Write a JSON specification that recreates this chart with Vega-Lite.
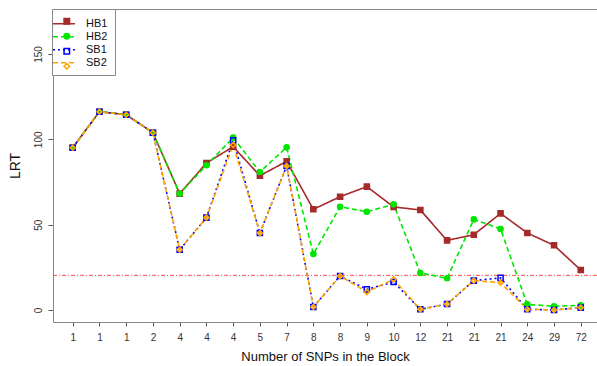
{
  "$schema": "https://vega.github.io/schema/vega-lite/v6.json",
  "width": 544,
  "height": 313,
  "autosize": {"type": "none"},
  "padding": {"left": 53, "top": 9, "right": 0, "bottom": 44},
  "background": "white",
  "config": {"font": "Liberation Sans", "view": {"stroke": null}, "axis": {"grid": false}},
  "datasets": {
    "lrt": [
      {"idx": 1, "series": "HB1", "value": 95.1}, {"idx": 1, "series": "HB2", "value": 95.1}, {"idx": 1, "series": "SB1", "value": 95.1}, {"idx": 1, "series": "SB2", "value": 95.1},
      {"idx": 2, "series": "HB1", "value": 116.2}, {"idx": 2, "series": "HB2", "value": 116.2}, {"idx": 2, "series": "SB1", "value": 116.2}, {"idx": 2, "series": "SB2", "value": 116.2},
      {"idx": 3, "series": "HB1", "value": 114.4}, {"idx": 3, "series": "HB2", "value": 114.4}, {"idx": 3, "series": "SB1", "value": 114.4}, {"idx": 3, "series": "SB2", "value": 114.4},
      {"idx": 4, "series": "HB1", "value": 103.9}, {"idx": 4, "series": "HB2", "value": 103.9}, {"idx": 4, "series": "SB1", "value": 103.9}, {"idx": 4, "series": "SB2", "value": 103.9},
      {"idx": 5, "series": "HB1", "value": 68.2}, {"idx": 5, "series": "HB2", "value": 68.2}, {"idx": 5, "series": "SB1", "value": 35.3}, {"idx": 5, "series": "SB2", "value": 35.3},
      {"idx": 6, "series": "HB1", "value": 86.1}, {"idx": 6, "series": "HB2", "value": 84.8}, {"idx": 6, "series": "SB1", "value": 54.1}, {"idx": 6, "series": "SB2", "value": 54.1},
      {"idx": 7, "series": "HB1", "value": 95.7}, {"idx": 7, "series": "HB2", "value": 101.0}, {"idx": 7, "series": "SB1", "value": 99.4}, {"idx": 7, "series": "SB2", "value": 96.7},
      {"idx": 8, "series": "HB1", "value": 78.7}, {"idx": 8, "series": "HB2", "value": 80.9}, {"idx": 8, "series": "SB1", "value": 45.1}, {"idx": 8, "series": "SB2", "value": 45.1},
      {"idx": 9, "series": "HB1", "value": 87.1}, {"idx": 9, "series": "HB2", "value": 95.3}, {"idx": 9, "series": "SB1", "value": 84.4}, {"idx": 9, "series": "SB2", "value": 84.4},
      {"idx": 10, "series": "HB1", "value": 59.0}, {"idx": 10, "series": "HB2", "value": 32.8}, {"idx": 10, "series": "SB1", "value": 1.8}, {"idx": 10, "series": "SB2", "value": 1.8},
      {"idx": 11, "series": "HB1", "value": 66.4}, {"idx": 11, "series": "HB2", "value": 60.5}, {"idx": 11, "series": "SB1", "value": 19.9}, {"idx": 11, "series": "SB2", "value": 19.9},
      {"idx": 12, "series": "HB1", "value": 72.3}, {"idx": 12, "series": "HB2", "value": 57.6}, {"idx": 12, "series": "SB1", "value": 12.1}, {"idx": 12, "series": "SB2", "value": 10.5},
      {"idx": 13, "series": "HB1", "value": 60.4}, {"idx": 13, "series": "HB2", "value": 61.9}, {"idx": 13, "series": "SB1", "value": 16.4}, {"idx": 13, "series": "SB2", "value": 18.0},
      {"idx": 14, "series": "HB1", "value": 58.6}, {"idx": 14, "series": "HB2", "value": 21.7}, {"idx": 14, "series": "SB1", "value": 0.4}, {"idx": 14, "series": "SB2", "value": 0.4},
      {"idx": 15, "series": "HB1", "value": 40.8}, {"idx": 15, "series": "HB2", "value": 18.6}, {"idx": 15, "series": "SB1", "value": 3.5}, {"idx": 15, "series": "SB2", "value": 3.5},
      {"idx": 16, "series": "HB1", "value": 44.1}, {"idx": 16, "series": "HB2", "value": 53.1}, {"idx": 16, "series": "SB1", "value": 17.2}, {"idx": 16, "series": "SB2", "value": 17.2},
      {"idx": 17, "series": "HB1", "value": 56.6}, {"idx": 17, "series": "HB2", "value": 47.5}, {"idx": 17, "series": "SB1", "value": 18.8}, {"idx": 17, "series": "SB2", "value": 16.0},
      {"idx": 18, "series": "HB1", "value": 45.1}, {"idx": 18, "series": "HB2", "value": 3.3}, {"idx": 18, "series": "SB1", "value": 0.4}, {"idx": 18, "series": "SB2", "value": 0.4},
      {"idx": 19, "series": "HB1", "value": 37.9}, {"idx": 19, "series": "HB2", "value": 2.2}, {"idx": 19, "series": "SB1", "value": 0.0}, {"idx": 19, "series": "SB2", "value": 0.0},
      {"idx": 20, "series": "HB1", "value": 23.4}, {"idx": 20, "series": "HB2", "value": 2.7}, {"idx": 20, "series": "SB1", "value": 1.4}, {"idx": 20, "series": "SB2", "value": 1.4}
    ]
  },
  "resolve": {"axis": {"x": "independent"}},
  "layer": [
    {
      "data": {"values": [{"value": 20.3}]},
      "mark": {"type": "rule", "color": "#ff4a4a", "strokeWidth": 1, "strokeDash": [4, 2, 1, 2]},
      "encoding": {
        "y": {"field": "value", "type": "quantitative", "scale": {"domain": [-7.03, 176.37], "nice": false, "zero": false}}
      }
    },
    {
      "data": {"name": "lrt"},
      "mark": {"type": "line", "strokeWidth": 1.6},
      "encoding": {
        "x": {
          "field": "idx", "type": "quantitative",
          "scale": {"domain": [0.263, 20.607], "nice": false, "zero": false},
          "axis": {
            "orient": "bottom",
            "values": [1, 2, 3, 4, 5, 6, 7, 8, 9, 10, 11, 12, 13, 14, 15, 16, 17, 18, 19, 20],
            "labelExpr": "['1','1','1','2','4','4','4','5','7','8','8','9','10','12','21','21','21','24','29','72'][datum.value-1]",
            "tickSize": 4, "tickColor": "#555", "domainColor": "#888",
            "labelFontSize": 10, "labelPadding": 6, "labelColor": "#333",
            "labelFlush": false, "labelOverlap": false,
            "title": "Number of SNPs in the Block", "titleFontSize": 13, "titleFontWeight": "normal", "titleColor": "#111", "titlePadding": 8
          }
        },
        "y": {
          "field": "value", "type": "quantitative",
          "scale": {"domain": [-7.03, 176.37], "nice": false, "zero": false},
          "axis": {
            "values": [0, 50, 100, 150],
            "labelAngle": -90, "labelAlign": "center", "labelBaseline": "bottom", "labelPadding": 5,
            "tickSize": 5, "tickColor": "#555", "domainColor": "#888",
            "labelFontSize": 10, "labelColor": "#333",
            "title": "LRT", "titleFontSize": 14, "titleFontWeight": "normal", "titleColor": "#111", "titlePadding": 11
          }
        },
        "color": {
          "field": "series", "type": "nominal",
          "scale": {"range": ["#A52A2A", "#00E600", "#0000FF", "#FFA500"]},
          "legend": {
            "title": null, "orient": "none", "legendX": -1, "legendY": 0,
            "symbolType": "M-1.571,0H1.571", "symbolSize": 196, "symbolStrokeWidth": 1.5, "symbolOffset": -2.7,
            "labelOffset": 14, "labelFontSize": 11, "labelColor": "#111",
            "padding": 6.7, "rowPadding": 0, "fillColor": "white", "strokeColor": "#888", "cornerRadius": 0
          }
        },
        "strokeDash": {
          "field": "series", "type": "nominal",
          "scale": {"range": [[1, 0], [5, 3], [2, 3], [5, 3]]}
        }
      }
    },
    {
      "data": {"name": "lrt"},
      "mark": {"type": "point", "filled": true, "opacity": 1, "strokeWidth": 1.5, "size": 26},
      "encoding": {
        "x": {
          "field": "idx", "type": "quantitative",
          "axis": {"orient": "top", "labels": false, "ticks": false, "title": null, "domainColor": "#888", "grid": false}
        },
        "y": {"field": "value", "type": "quantitative"},
        "shape": {
          "field": "series", "type": "nominal",
          "scale": {"domain": ["HB1", "HB2", "SB1", "SB2"], "range": ["square", "circle", "square", "diamond"]},
          "legend": {
            "title": null, "orient": "none", "legendX": 1.6, "legendY": 0,
            "symbolSize": 30, "symbolStrokeWidth": 1.5,
            "labelExpr": "''", "labelFontSize": 11,
            "padding": 6.7, "rowPadding": 2
          }
        },
        "stroke": {
          "field": "series", "type": "nominal",
          "scale": {"domain": ["HB1", "HB2", "SB1", "SB2"], "range": ["#A52A2A", "#00E600", "#0000FF", "#FFA500"]}
        },
        "fill": {
          "field": "series", "type": "nominal",
          "scale": {"domain": ["HB1", "HB2", "SB1", "SB2"], "range": ["#A52A2A", "#00E600", "transparent", "transparent"]}
        }
      }
    }
  ]
}
